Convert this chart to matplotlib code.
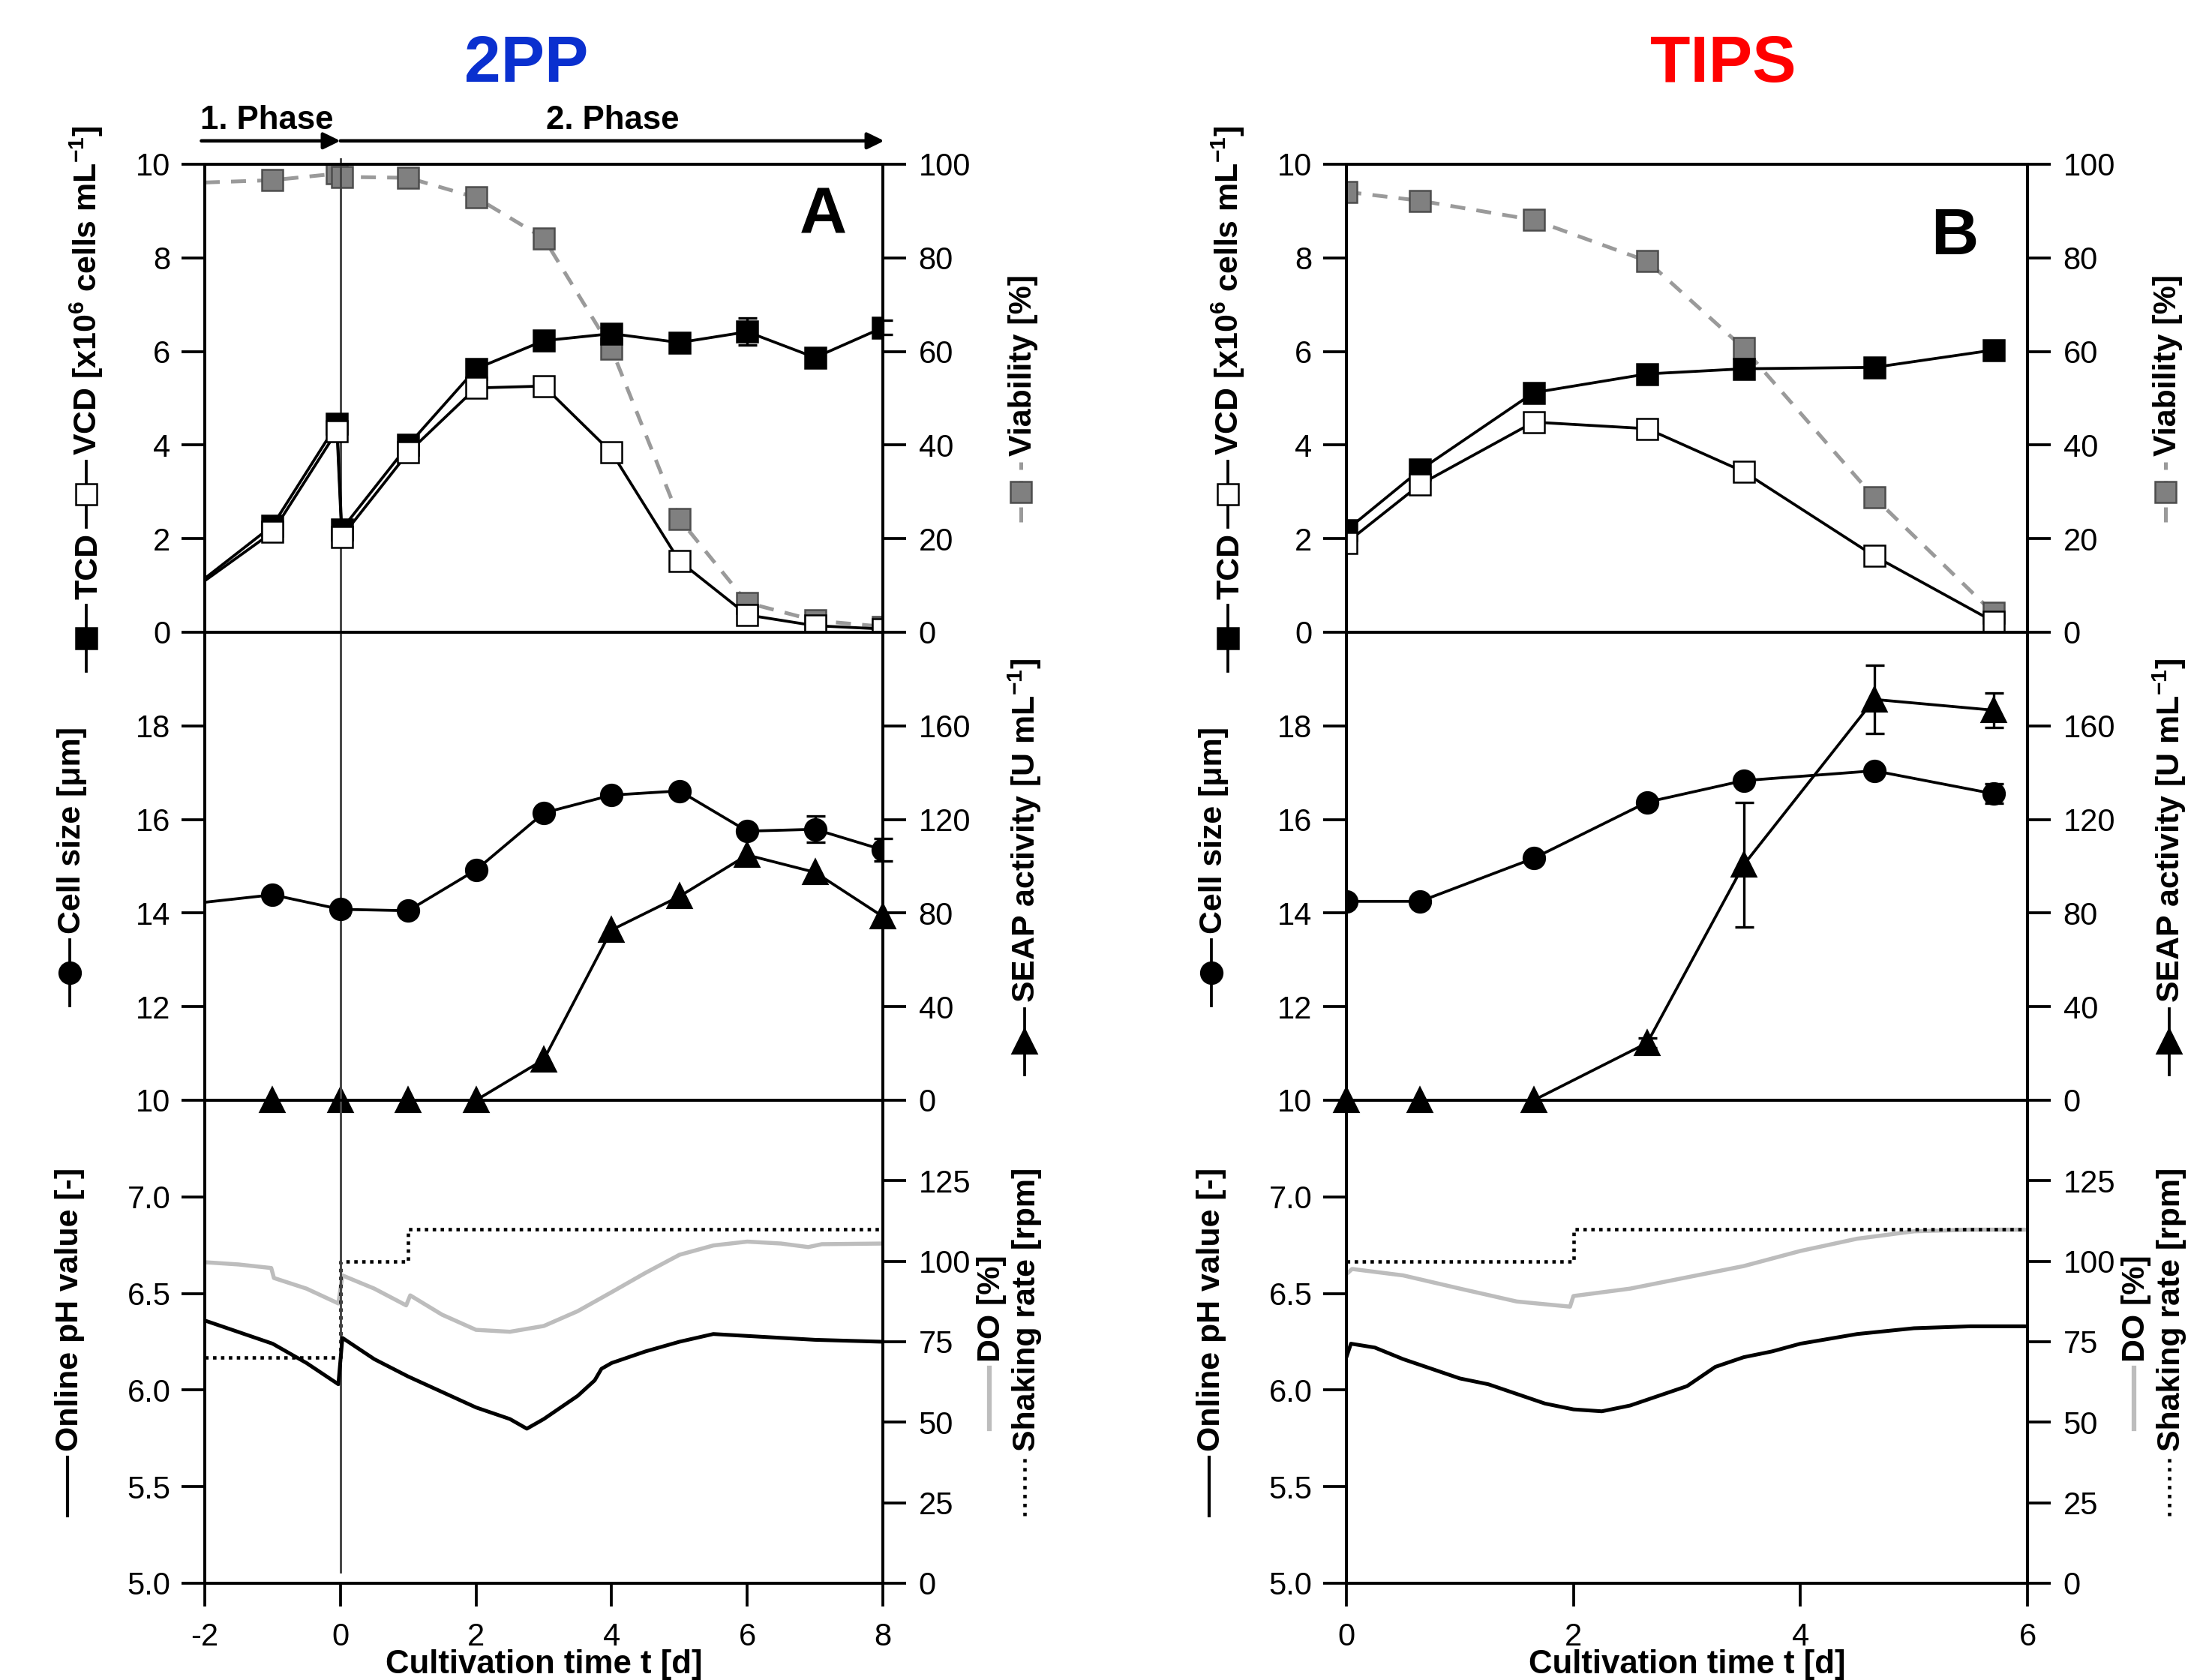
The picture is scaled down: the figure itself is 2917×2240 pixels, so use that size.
import matplotlib
matplotlib.use('Agg')
import matplotlib.pyplot as plt
from matplotlib.lines import Line2D
from matplotlib.transforms import IdentityTransform
import numpy as np

plt.rcParams['font.family'] = ['Liberation Sans', 'DejaVu Sans']
plt.rcParams['mathtext.fontset'] = 'custom'
plt.rcParams['mathtext.rm'] = 'Liberation Sans'
plt.rcParams['mathtext.bf'] = 'Liberation Sans:bold'
plt.rcParams['axes.linewidth'] = 0.9
plt.rcParams['axes.unicode_minus'] = False

# ---------------- data: 2PP (panel A) ----------------
t_a = [-2, -1, -0.05, 0.02, 1, 2, 3, 4, 5, 6, 7, 8]
tcd_a = [1.15, 2.28, 4.45, 2.2, 4.0, 5.63, 6.23, 6.38, 6.19, 6.42, 5.87, 6.51]
tcd_a_err = [0, 0, 0, 0, 0, 0, 0, 0, 0, 0.29, 0, 0.15]
vcd_a = [1.1, 2.14, 4.30, 2.04, 3.84, 5.22, 5.26, 3.84, 1.52, 0.37, 0.14, 0.07]
via_a = [96.1, 96.6, 98.0, 97.3, 97.1, 92.9, 84.2, 60.5, 24.2, 6.3, 2.5, 1.2]

t_a2 = [-2, -1, 0, 1, 2, 3, 4, 5, 6, 7, 8]
size_a = [14.23, 14.39, 14.08, 14.05, 14.92, 16.14, 16.52, 16.61, 15.75, 15.79, 15.35]
size_a_err = [0, 0, 0.12, 0, 0, 0, 0, 0, 0.07, 0.28, 0.24]
t_a3 = [-1, 0, 1, 2, 3, 4, 5, 6, 7, 8]
seap_a = [0, 0, 0, 0, 17.4, 72.8, 87.1, 104.8, 97.4, 78.5]

ph_t_a = [-2, -1.5, -1, -0.5, -0.03, 0.03, 0.5, 1, 1.5, 2, 2.5, 2.75, 3, 3.5,
          3.75, 3.85, 4, 4.5, 5, 5.5, 6, 7, 8]
ph_a = [6.36, 6.30, 6.24, 6.14, 6.03, 6.27, 6.16, 6.07, 5.99, 5.91, 5.85, 5.80,
        5.85, 5.97, 6.05, 6.11, 6.14, 6.20, 6.25, 6.29, 6.28, 6.26, 6.25]
do_t_a = [-2, -1.5, -1.02, -0.98, -0.5, -0.03, 0.03, 0.5, 0.97, 1.03, 1.5, 2,
          2.5, 3, 3.5, 4, 4.5, 5, 5.5, 6, 6.5, 6.9, 7.1, 8]
do_a = [99.7, 99.0, 97.9, 94.8, 91.5, 86.9, 95.6, 91.5, 86.3, 89.4, 83.4, 78.7,
        78.1, 79.9, 84.5, 90.4, 96.4, 102.0, 104.9, 106.1, 105.5, 104.4, 105.3, 105.5]
shake_t_a = [-2, 0, 1, 8]
shake_a = [70, 100, 110, 110]

# ---------------- data: TIPS (panel B) ----------------
t_b = [0, 0.65, 1.65, 2.65, 3.5, 4.65, 5.7]
tcd_b = [2.18, 3.47, 5.12, 5.52, 5.63, 5.66, 6.03]
vcd_b = [1.91, 3.16, 4.49, 4.35, 3.43, 1.63, 0.23]
via_b = [94.1, 92.2, 88.1, 79.3, 60.7, 28.8, 4.1]
size_b = [14.25, 14.25, 15.17, 16.37, 16.83, 17.04, 16.55]
size_b_err = [0, 0, 0, 0, 0, 0, 0.21]
seap_b = [0, 0, 0, 24.5, 100.6, 171.3, 166.7]
seap_b_err = [0, 0, 0, 2.0, 26.5, 14.7, 7.3]

ph_t_b = [0, 0.04, 0.25, 0.5, 0.75, 1, 1.25, 1.5, 1.75, 2, 2.25, 2.5, 2.75, 3,
          3.25, 3.5, 3.75, 4, 4.5, 5, 5.5, 6]
ph_b = [6.17, 6.24, 6.22, 6.16, 6.11, 6.06, 6.03, 5.98, 5.93, 5.90, 5.89, 5.92,
        5.97, 6.02, 6.12, 6.17, 6.20, 6.24, 6.29, 6.32, 6.33, 6.33]
do_t_b = [0, 0.05, 0.5, 1, 1.5, 1.97, 2.0, 2.5, 3, 3.5, 4, 4.5, 5, 5.5, 6]
do_b = [96.0, 97.6, 95.6, 91.5, 87.5, 85.9, 89.2, 91.5, 95.0, 98.5, 103.2,
        107.0, 109.3, 109.8, 109.8]
shake_t_b = [0, 2, 6]
shake_b = [100, 110, 110]

# ---------------- styles ----------------
GRAY_LINE = '#9a9a9a'
DO_COL = '#bdbdbd'
sq_black = dict(marker='s', ms=6.5, mfc='black', mec='black', mew=0.6)
sq_white = dict(marker='s', ms=6.5, mfc='white', mec='black', mew=0.6)
sq_gray = dict(marker='s', ms=6.5, mfc='#808080', mec='#4d4d4d', mew=0.6)
circ = dict(marker='o', ms=6.5, mfc='black', mec='black')
tri = dict(marker='^', ms=7, mfc='black', mec='black')
TL = 7.4

W, H = 2917, 2240
fig = plt.figure(figsize=(W / 300, H / 300), dpi=300)


def px_axes(x0, x1, ytop, ybot):
    return fig.add_axes([x0 / W, 1 - ybot / H, (x1 - x0) / W, (ybot - ytop) / H])


def style(ax, tw, bottom):
    ax.set_zorder(tw.get_zorder() + 1)
    ax.patch.set_visible(False)
    ax.tick_params(axis='y', direction='out', length=TL, width=0.9, labelsize=10, pad=3.5, right=False)
    tw.tick_params(axis='y', direction='out', length=TL, width=0.9, labelsize=10, pad=4, left=False)
    if bottom:
        ax.tick_params(axis='x', direction='out', length=TL, width=0.9, labelsize=10, pad=5)
        ax.set_xlabel('Cultivation time t [d]', fontsize=10.5, fontweight='bold', labelpad=-1)
    else:
        ax.tick_params(axis='x', bottom=False, labelbottom=False)


def err(ax, t, y, e):
    t, y, e = np.array(t), np.array(y), np.array(e)
    m = e > 0
    ax.errorbar(t[m], y[m], yerr=e[m], fmt='none', ecolor='black', elinewidth=0.8,
                capsize=3, capthick=0.8, clip_on=False, zorder=1)


def stack_label(x_base, yc, parts, fs=10.3, gap=8):
    # vertical axis label made of line/marker symbols and rotated texts
    r = fig.canvas.get_renderer()
    items = []
    for p in parts:
        if p[0] == 'txt':
            t = fig.text(x_base, 0, p[1], rotation=90, rotation_mode='anchor',
                         ha='left', va='baseline', fontsize=fs, fontweight='bold',
                         transform=IdentityTransform())
            items.append((p, t, t.get_window_extent(r).height))
        else:
            items.append((p, None, p[1]))
    total = sum(i[2] for i in items) + gap * (len(items) - 1)
    y = yc - total / 2
    xs = x_base - 14
    for p, t, h in items:
        if t is not None:
            t.set_position((x_base, y))
        else:
            fig.add_artist(Line2D([xs, xs], [y, y + h], transform=IdentityTransform(), **p[2]))
            if len(p) > 3:
                fig.add_artist(Line2D([xs], [y + h / 2], transform=IdentityTransform(),
                                      linestyle='none', **p[3]))
        y += h + gap


solid = dict(color='black', lw=0.9)
panels = [
    dict(x0=273, x1=1177, xlim=(-2, 8), xt=[-2, 0, 2, 4, 6, 8]),
    dict(x0=1795, x1=2703, xlim=(0, 6), xt=[0, 2, 4, 6]),
]
rows = [(219, 843), (843, 1467), (1467, 2111)]

axes = []
for p in panels:
    col = []
    for i, (yt, yb) in enumerate(rows):
        ax = px_axes(p['x0'], p['x1'], yt, yb)
        tw = ax.twinx()
        ax.set_xlim(*p['xlim'])
        ax.set_xticks(p['xt'])
        style(ax, tw, i == 2)
        col.append((ax, tw))
    axes.append(col)

# ---------- top row: cell densities / viability ----------
for k, (t, tcd, vcd, via, e_tcd, me) in enumerate([
        (t_a, tcd_a, vcd_a, via_a, tcd_a_err, list(range(1, len(t_a)))),
        (t_b, tcd_b, vcd_b, via_b, [0] * len(t_b), list(range(len(t_b))))]):
    ax, tw = axes[k][0]
    tw.plot(t, via, color=GRAY_LINE, lw=1.2, ls=(0, (4, 3)), markevery=me, **sq_gray)
    err(ax, t, tcd, e_tcd)
    ax.plot(t, tcd, markevery=me, **solid, **sq_black)
    ax.plot(t, vcd, markevery=me, **solid, **sq_white)
    ax.set_ylim(0, 10)
    ax.set_yticks([0, 2, 4, 6, 8, 10])
    tw.set_ylim(0, 100)
    tw.set_yticks([0, 20, 40, 60, 80, 100])

# ---------- middle row: cell size / SEAP ----------
for k, (ts, size, e_size, tsp, seap, e_seap, me) in enumerate([
        (t_a2, size_a, size_a_err, t_a3, seap_a, [0] * len(t_a3), list(range(1, len(t_a2)))),
        (t_b, size_b, size_b_err, t_b, seap_b, seap_b_err, list(range(len(t_b))))]):
    ax, tw = axes[k][1]
    err(tw, tsp, seap, e_seap)
    tw.plot(tsp, seap, clip_on=False, **solid, **tri)
    err(ax, ts, size, e_size)
    ax.plot(ts, size, markevery=me, **solid, **circ)
    ax.set_ylim(10, 20)
    ax.set_yticks([10, 12, 14, 16, 18])
    tw.set_ylim(0, 200)
    tw.set_yticks([0, 40, 80, 120, 160])

# ---------- bottom row: online pH / DO / shaking ----------
for k, (pt, ph, dt, do, st, sh) in enumerate([
        (ph_t_a, ph_a, do_t_a, do_a, shake_t_a, shake_a),
        (ph_t_b, ph_b, do_t_b, do_b, shake_t_b, shake_b)]):
    ax, tw = axes[k][2]
    tw.plot(dt, do, color=DO_COL, lw=1.3)
    tw.plot(st, sh, color='black', lw=1.1, ls=(0, (1, 1.3)), drawstyle='steps-post')
    ax.plot(pt, ph, color='black', lw=1.2)
    ax.set_ylim(5.0, 7.5)
    ax.set_yticks([5.0, 5.5, 6.0, 6.5, 7.0])
    ax.set_yticklabels(['5.0', '5.5', '6.0', '6.5', '7.0'])
    tw.set_ylim(0, 150)
    tw.set_yticks([0, 25, 50, 75, 100, 125])

# vertical marker at the start of phase 2
vl = dict(color='#444444', lw=0.7, zorder=0.5)
axes[0][0][0].axvline(0, ymin=0, ymax=1.012, clip_on=False, **vl)
axes[0][1][0].axvline(0, **vl)
axes[0][2][0].axvline(0, ymin=0.023, ymax=1, **vl)

# phase arrows and labels
axA = axes[0][0][0]
arr = dict(arrowstyle='-|>,head_length=0.45,head_width=0.22', color='black', lw=1.1,
           shrinkA=0, shrinkB=0, mutation_scale=10)
axA.annotate('', xy=(0, 1.05), xytext=(-2.05, 1.05), xycoords=('data', 'axes fraction'),
             textcoords=('data', 'axes fraction'), arrowprops=arr, annotation_clip=False)
axA.annotate('', xy=(8.02, 1.05), xytext=(0, 1.05), xycoords=('data', 'axes fraction'),
             textcoords=('data', 'axes fraction'), arrowprops=arr, annotation_clip=False)
axA.text(-1.09, 1.075, '1. Phase', transform=axA.get_xaxis_transform(), ha='center',
         va='baseline', fontsize=10.5, fontweight='bold')
axA.text(4.02, 1.075, '2. Phase', transform=axA.get_xaxis_transform(), ha='center',
         va='baseline', fontsize=10.5, fontweight='bold')

# panel letters
axA.text(7.47, 0.955, 'A', transform=axA.get_xaxis_transform(), ha='right', va='top',
         fontsize=21, fontweight='bold')
axB = axes[1][0][0]
axB.text(5.565, 0.909, 'B', transform=axB.get_xaxis_transform(), ha='right', va='top',
         fontsize=21, fontweight='bold')

# titles
fig.text(702 / W, 1 - 109 / H, '2PP', ha='center', va='baseline', fontsize=21,
         fontweight='bold', color='#0a30cf')
fig.text(2297 / W, 1 - 109 / H, 'TIPS', ha='center', va='baseline', fontsize=21,
         fontweight='bold', color='#ff0000')

# axis labels with embedded symbols
seg = 88
l_solid = dict(color='black', lw=0.9)
for p in panels:
    xl, xr = p['x0'], p['x1']
    for (yt, yb), left_parts, right_parts, offl in [
        (rows[0],
         [('sym', seg, l_solid, sq_black), ('txt', 'TCD'), ('sym', seg, l_solid, sq_white),
          ('txt', r'VCD [x10$^{\mathbf{6}}$ cells mL$^{\mathbf{-1}}$]')],
         [[('sym', 80, dict(color=GRAY_LINE, lw=1.2, ls=(0, (4, 3))), sq_gray),
           ('txt', 'Viability [%]')], 198], 144),
        (rows[1],
         [('sym', seg, l_solid, circ), ('txt', 'Cell size [μm]')],
         [[('sym', seg, l_solid, tri), ('txt', r'SEAP activity [U mL$^{\mathbf{-1}}$]')], 203], 166),
    ]:
        yc = H - (yt + yb) / 2
        stack_label(xl - offl, yc, left_parts)
        stack_label(xr + right_parts[1], yc, right_parts[0])
    yt, yb = rows[2]
    yc = H - (yt + yb) / 2
    stack_label(xl - 169, yc, [('sym', 78, dict(color='black', lw=1.0)), ('txt', 'Online pH value [-]')])
    stack_label(xr + 156, yc, [('sym', 81, dict(color=DO_COL, lw=1.5)), ('txt', 'DO [%]')])
    stack_label(xr + 203, yc, [('sym', 78, dict(color='black', lw=1.1, ls=(0, (1, 1.6)))),
                               ('txt', 'Shaking rate [rpm]')])

fig.savefig('out.png', dpi=300)
